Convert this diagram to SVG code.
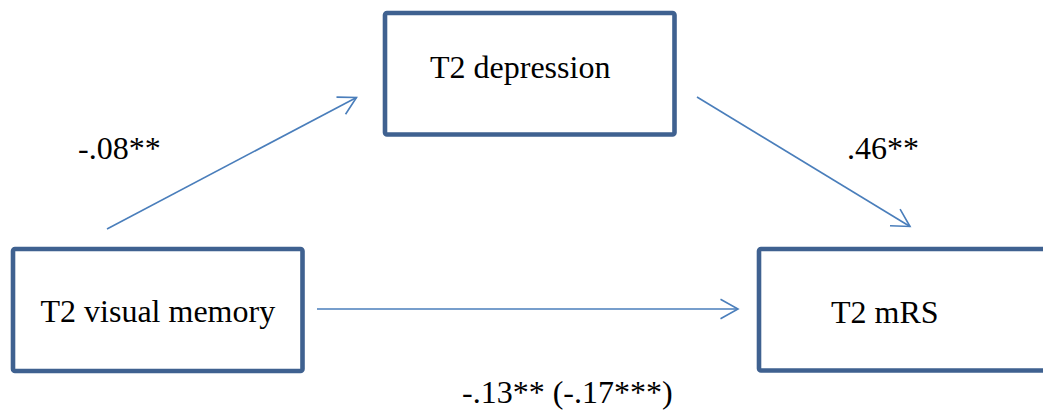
<svg xmlns="http://www.w3.org/2000/svg" width="1043" height="410" viewBox="0 0 1043 410">
<style>
.box{fill:#fff;stroke:#3F6190;stroke-width:4.6}
.lbl{font-family:"Liberation Serif","Times New Roman",serif;font-size:32px;fill:#000}
.edge{fill:none;stroke:#4A7EBB;stroke-width:1.6}
</style>
<defs>
<marker id="arr" viewBox="-20 -12 22 24" markerWidth="22" markerHeight="24" markerUnits="userSpaceOnUse" refX="0" refY="0" orient="auto">
<path d="M-17.5,-9.7 L0,0 L-17.5,9.7" fill="none" stroke="#4A7EBB" stroke-width="1.6"/>
</marker>
</defs>
<rect width="1043" height="410" fill="#fff"/>
<g id="connectors">
<line class="edge" x1="107" y1="229" x2="356.5" y2="97.5" marker-end="url(#arr)"/>
<line class="edge" x1="697" y1="97" x2="910" y2="226.5" marker-end="url(#arr)"/>
<line class="edge" x1="317" y1="309" x2="738" y2="309" marker-end="url(#arr)"/>
<text class="lbl" x="78" y="159">-.08**</text>
<text class="lbl" x="847" y="159">.46**</text>
<text class="lbl" x="462" y="403">-.13** (-.17***)</text>
</g>
<g id="node-depression">
<rect class="box" x="385" y="13" width="289.5" height="121.5" rx="2"/>
<text class="lbl" x="430" y="77.5">T2 depression</text>
</g>
<g id="node-visual-memory">
<rect class="box" x="13" y="249" width="289.5" height="122" rx="2"/>
<text class="lbl" x="40.5" y="321.5">T2 visual memory</text>
</g>
<g id="node-mrs">
<rect class="box" x="759" y="249" width="290" height="121.5" rx="2"/>
<text class="lbl" x="831" y="322.5">T2 mRS</text>
</g>
</svg>
